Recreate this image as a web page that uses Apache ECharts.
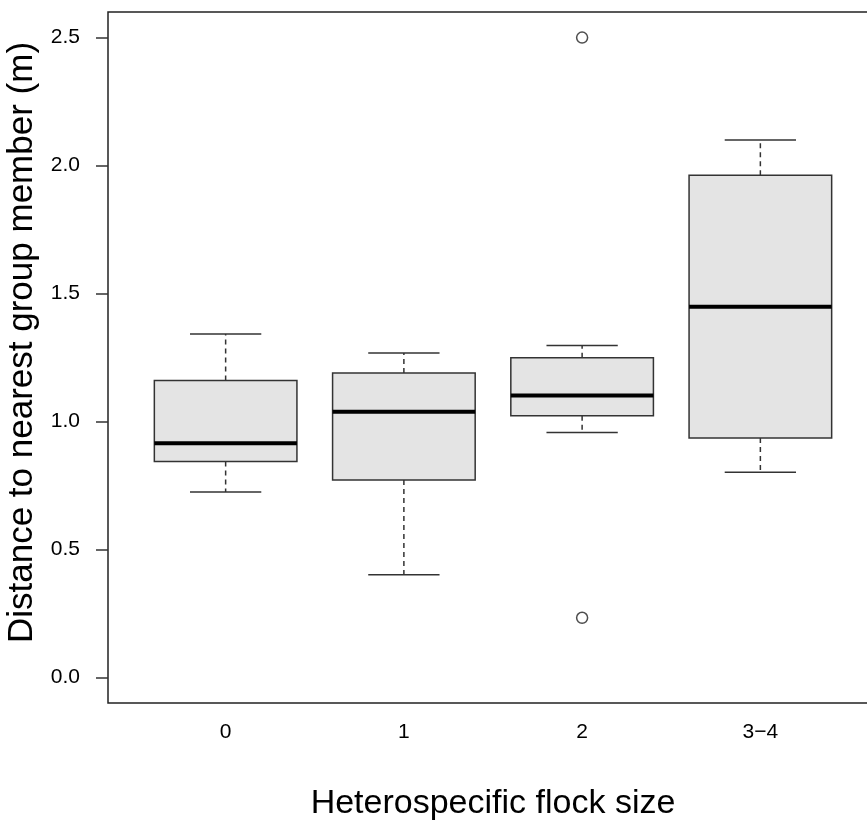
<!DOCTYPE html>
<html>
<head>
<meta charset="utf-8">
<script src="https://cdn.jsdelivr.net/npm/echarts@6/dist/echarts.min.js"></script>
<style>
html,body{margin:0;padding:0;background:#fff;}
#chart{width:867px;height:823px;}
</style>
</head>
<body>
<div id="chart"></div>
<script>
const categories = ['0', '1', '2', '3\u22124'];
const boxMin    = [0.724, 0.401, 0.957, 0.802];
const boxQ1     = [0.844, 0.771, 1.022, 0.935];
const boxMedian = [0.915, 1.038, 1.102, 1.448];
const boxQ3     = [1.160, 1.189, 1.249, 1.962];
const boxMax    = [1.342, 1.268, 1.297, 2.100];
const outlierGroup = [3, 3];
const outlierValue = [2.5, 0.233];
const yTicks = [0, 0.5, 1.0, 1.5, 2.0, 2.5];
const xTitle = 'Heterospecific flock size';
const yTitle = 'Distance to nearest group member (m)';

const FONT = 'Liberation Sans, Arial, sans-serif';
const boxData = categories.map((c, i) => [i + 1, boxMin[i], boxQ1[i], boxMedian[i], boxQ3[i], boxMax[i]]);
const outlierData = outlierGroup.map((g, i) => [g, outlierValue[i]]);

const chart = echarts.init(document.getElementById('chart'), null, {renderer: 'canvas'});
chart.setOption({
  animation: false,
  backgroundColor: '#fff',
  textStyle: {fontFamily: FONT},
  grid: {left: 108, top: 12, right: -11, bottom: 120, outerBoundsMode: 'none', containLabel: false,
         show: true, borderColor: '#222', borderWidth: 1.5, backgroundColor: 'transparent'},
  xAxis: {
    type: 'value', min: 0.34, max: 4.66,
    axisLine: {show: false}, axisTick: {show: false}, splitLine: {show: false},
    axisLabel: {customValues: [1, 2, 3, 4], formatter: v => categories[Math.round(v) - 1], fontSize: 21, color: '#000', fontFamily: FONT, margin: 19},
    name: xTitle, nameLocation: 'middle', nameGap: 84,
    nameTextStyle: {fontSize: 34, color: '#000', fontFamily: FONT}
  },
  yAxis: {
    type: 'value', min: -0.1, max: 2.6,
    axisLine: {show: false}, splitLine: {show: false},
    axisTick: {show: true, length: 12, customValues: yTicks, lineStyle: {color: '#333', width: 1.5}},
    axisLabel: {customValues: yTicks, formatter: v => v.toFixed(1), fontSize: 21, color: '#000', fontFamily: FONT, margin: 28},
    name: yTitle, nameLocation: 'middle', nameGap: 64, nameRotate: 90,
    nameTextStyle: {fontSize: 35, color: '#000', fontFamily: FONT, padding: [0, 0, 0, 30]}
  },
  series: [
    {
      type: 'custom',
      data: boxData,
      encode: {x: 0, y: [1, 2, 3, 4, 5]},
      renderItem: function (params, api) {
        const x = api.value(0);
        const pLo = api.coord([x, api.value(1)]);
        const pQ1 = api.coord([x, api.value(2)]);
        const pMed = api.coord([x, api.value(3)]);
        const pQ3 = api.coord([x, api.value(4)]);
        const pHi = api.coord([x, api.value(5)]);
        const w = api.size([0.8, 0])[0];
        const cx = pQ1[0];
        const dash = {stroke: '#333', lineWidth: 1.5, lineDash: [5, 4]};
        const solid = {stroke: '#333', lineWidth: 1.5};
        return {
          type: 'group',
          children: [
            {type: 'line', shape: {x1: cx, y1: pQ3[1], x2: cx, y2: pHi[1]}, style: dash},
            {type: 'line', shape: {x1: cx, y1: pQ1[1], x2: cx, y2: pLo[1]}, style: dash},
            {type: 'line', shape: {x1: cx - w / 4, y1: pHi[1], x2: cx + w / 4, y2: pHi[1]}, style: solid},
            {type: 'line', shape: {x1: cx - w / 4, y1: pLo[1], x2: cx + w / 4, y2: pLo[1]}, style: solid},
            {type: 'rect', shape: {x: cx - w / 2, y: pQ3[1], width: w, height: pQ1[1] - pQ3[1]}, style: {fill: '#e4e4e4', stroke: '#333', lineWidth: 1.5}},
            {type: 'line', shape: {x1: cx - w / 2, y1: pMed[1], x2: cx + w / 2, y2: pMed[1]}, style: {stroke: '#000', lineWidth: 4}}
          ]
        };
      }
    },
    {
      type: 'scatter',
      data: outlierData,
      symbol: 'circle', symbolSize: 11,
      itemStyle: {color: 'transparent', borderColor: '#222', borderWidth: 1.5}
    }
  ]
});
</script>
</body>
</html>
